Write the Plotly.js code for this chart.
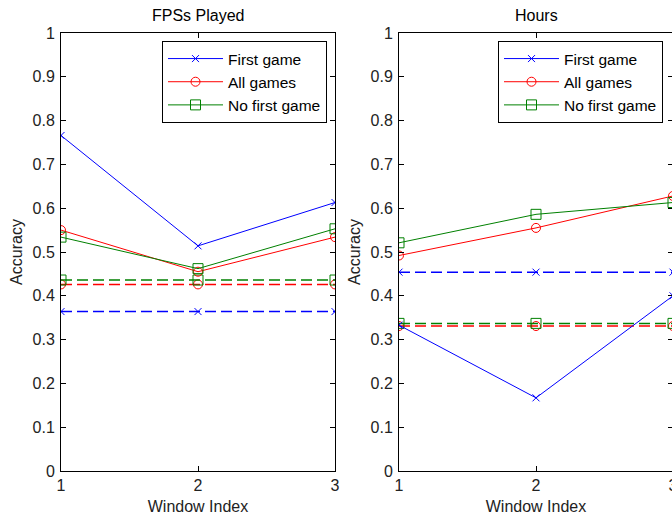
<!DOCTYPE html>
<html>
<head>
<meta charset="utf-8">
<script src="https://cdn.plot.ly/plotly-3.0.1.min.js"></script>
<style>
html,body{margin:0;padding:0;overflow:hidden;background:#fff;}
#chart{width:700px;height:517px;}
</style>
</head>
<body>
<div id="chart"></div>
<script>
// Data
const windowIndex = [1, 2, 3];
const seriesNames = ["First game", "All games", "No first game"];
const panelTitles = ["FPSs Played", "Hours"];
const xTitle = "Window Index";
const yTitle = "Accuracy";

// FPSs Played panel
const fpsFirstGame = [0.766, 0.514, 0.613];
const fpsAllGames = [0.550, 0.455, 0.534];
const fpsNoFirstGame = [0.534, 0.462, 0.553];
const fpsFirstGameBase = [0.364, 0.364, 0.364];
const fpsAllGamesBase = [0.426, 0.426, 0.426];
const fpsNoFirstGameBase = [0.436, 0.436, 0.436];

// Hours panel
const hoursFirstGame = [0.333, 0.167, 0.400];
const hoursAllGames = [0.492, 0.555, 0.628];
const hoursNoFirstGame = [0.521, 0.586, 0.613];
const hoursFirstGameBase = [0.454, 0.454, 0.454];
const hoursAllGamesBase = [0.331, 0.331, 0.331];
const hoursNoFirstGameBase = [0.337, 0.337, 0.337];

const colors = ["#0000ff", "#ff0000", "#008000"];
const symbols = ["x-thin-open", "circle-open", "square-open"];
const msize = [7, 9, 10];

const W = 700;
const FONT = "Liberation Sans, Arial, sans-serif";

function solid(y, i, xa, ya, legend) {
  return {
    x: windowIndex, y: y, type: "scatter", mode: "lines+markers",
    name: seriesNames[i], xaxis: xa, yaxis: ya, legend: legend,
    line: {color: colors[i], width: 1},
    marker: {symbol: symbols[i], size: msize[i], color: colors[i], line: {color: colors[i], width: 1}},
    showlegend: true
  };
}
function dashed(y, i, xa, ya) {
  return {
    x: windowIndex, y: y, type: "scatter", mode: "lines+markers",
    name: seriesNames[i] + " (baseline)", xaxis: xa, yaxis: ya,
    line: {color: colors[i], width: 1.5, dash: "11px,5px"},
    marker: {symbol: symbols[i], size: msize[i], color: colors[i], line: {color: colors[i], width: 1}},
    showlegend: false
  };
}

const traces = [
  dashed(fpsFirstGameBase, 0, "x", "y"),
  dashed(fpsAllGamesBase, 1, "x", "y"),
  dashed(fpsNoFirstGameBase, 2, "x", "y"),
  solid(fpsFirstGame, 0, "x", "y", "legend"),
  solid(fpsAllGames, 1, "x", "y", "legend"),
  solid(fpsNoFirstGame, 2, "x", "y", "legend"),
  dashed(hoursFirstGameBase, 0, "x2", "y2"),
  dashed(hoursAllGamesBase, 1, "x2", "y2"),
  dashed(hoursNoFirstGameBase, 2, "x2", "y2"),
  solid(hoursFirstGame, 0, "x2", "y2", "legend2"),
  solid(hoursAllGames, 1, "x2", "y2", "legend2"),
  solid(hoursNoFirstGame, 2, "x2", "y2", "legend2")
];

const tickfont = {family: FONT, size: 16, color: "#222"};
function xaxis(domain, anchor) {
  return {
    domain: domain, anchor: anchor, range: [1, 3], dtick: 1, tick0: 1,
    showgrid: false, zeroline: false, showline: true, mirror: "ticks",
    linecolor: "#000", linewidth: 1, ticks: "inside", ticklen: 5, tickcolor: "#000",
    tickfont: tickfont, ticklabelstandoff: 0,
    title: {text: xTitle, font: {family: FONT, size: 16, color: "#222"}, standoff: 7},
    fixedrange: true
  };
}
function yaxis(anchor) {
  return {
    domain: [0, 1], anchor: anchor, range: [0, 1], dtick: 0.1, tick0: 0,
    showgrid: false, zeroline: false, showline: true, mirror: "ticks",
    linecolor: "#000", linewidth: 1, ticks: "inside", ticklen: 5, tickcolor: "#000",
    tickfont: tickfont, ticklabelstandoff: 2,
    title: {text: yTitle, font: {family: FONT, size: 16, color: "#222"}, standoff: 5},
    fixedrange: true
  };
}
function legendCfg(xpx) {
  return {
    x: xpx / W, xanchor: "left", y: (471 - 41) / 438, yanchor: "top",
    bgcolor: "#fff", bordercolor: "#000", borderwidth: 1,
    font: {family: FONT, size: 15.5, color: "#000"},
    tracegroupgap: 0, itemwidth: 55
  };
}

const layout = {
  width: W, height: 517,
  margin: {l: 0, r: 0, t: 33, b: 46, pad: 0},
  paper_bgcolor: "#fff", plot_bgcolor: "#fff",
  xaxis: xaxis([61 / W, 335 / W], "y"),
  yaxis: yaxis("x"),
  xaxis2: xaxis([399 / W, 673 / W], "y2"),
  yaxis2: yaxis("x2"),
  legend: legendCfg(162),
  legend2: legendCfg(498),
  annotations: [
    {text: panelTitles[0], xref: "paper", yref: "paper", x: (61 + 335) / 2 / W, y: 1, yshift: 18,
     showarrow: false, xanchor: "center", yanchor: "middle", font: {family: FONT, size: 16, color: "#000"}},
    {text: panelTitles[1], xref: "paper", yref: "paper", x: (399 + 673) / 2 / W, y: 1, yshift: 18,
     showarrow: false, xanchor: "center", yanchor: "middle", font: {family: FONT, size: 16, color: "#000"}}
  ],
  showlegend: true
};

Plotly.newPlot("chart", traces, layout, {displayModeBar: false, staticPlot: true});
</script>
</body>
</html>
